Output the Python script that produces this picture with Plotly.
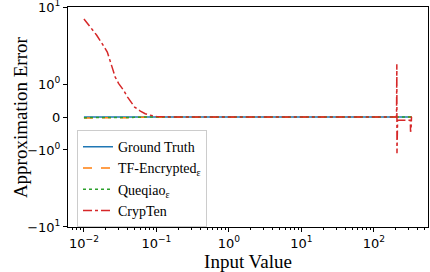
import numpy as np
import plotly.graph_objects as go

# ---- data ----
x_common = [0.01, 0.012, 0.015, 0.018, 0.021, 0.025, 0.03, 0.035, 0.04, 0.05,
            0.06, 0.07, 0.08, 0.1, 0.15, 0.2, 0.3, 0.5, 0.7, 1, 2, 3, 5, 7,
            10, 20, 30, 50, 70, 100, 150, 200, 250, 300, 333]
ground_truth = [0.0] * len(x_common)
tf_encrypted = [-0.03, -0.03, -0.04, -0.03, -0.04, -0.03, -0.03, -0.02, -0.02, -0.01,
                -0.01, -0.01, 0.0, 0.0, 0.0, 0.0, 0.0, 0.0, 0.0, 0.0, 0.0, 0.0, 0.0, 0.0,
                0.0, 0.0, 0.0, 0.0, 0.0, 0.0, 0.0, 0.0, 0.0, 0.0, 0.0]
queqiao = [-0.02, -0.02, -0.03, -0.02, -0.02, -0.02, -0.02, -0.01, -0.01, -0.01,
           -0.01, 0.0, 0.0, 0.0, 0.0, 0.0, 0.0, 0.0, 0.0, 0.0, 0.0, 0.0, 0.0, 0.0,
           0.0, 0.0, 0.0, 0.0, 0.0, 0.0, 0.0, 0.0, 0.0, 0.0, 0.0]

x_crypten = [0.01, 0.012, 0.015, 0.018, 0.021, 0.025, 0.027, 0.03, 0.035, 0.04,
             0.05, 0.06, 0.07, 0.08, 0.1, 0.15, 0.2, 0.3, 0.5, 1, 2, 5, 10, 20,
             50, 100, 150, 200, 205, 207, 208, 209, 210, 212, 250, 300, 318, 320, 325, 330, 333]
crypten = [7.0, 5.6, 4.3, 3.3, 2.6, 1.55, 1.23, 1.02, 0.82, 0.6,
           0.3, 0.18, 0.1, 0.06, 0.015, 0.003, 0.0, 0.0, 0.0, 0.0, 0.0, 0.0, 0.0, 0.0,
           0.0, 0.0, 0.0, 0.0, 0.0, 1.8, -1.1, 0.0, -0.1, -0.1, -0.1, -0.1, -0.1, -0.45, -0.4, 0.0, 0.0]

y_tick_values = [-10, -1, 0, 1, 10]
y_tick_labels = ["\u221210<sup>1</sup>", "\u221210<sup>0</sup>", "0", "10<sup>0</sup>", "10<sup>1</sup>"]
x_tick_values = [0.01, 0.1, 1, 10, 100]
x_tick_labels = ["10<sup>\u22122</sup>", "10<sup>\u22121</sup>", "10<sup>0</sup>", "10<sup>1</sup>", "10<sup>2</sup>"]

# ---- symlog scale (linthresh = 1) ----
LIN = 0.4286
def symlog(v):
    v = np.asarray(v, dtype=float)
    a = np.abs(v)
    out = np.where(a <= 1, LIN * v, np.sign(v) * (LIN + np.log10(np.maximum(a, 1e-300))))
    return out

fig = go.Figure()
fig.add_trace(go.Scatter(x=x_common, y=symlog(ground_truth), mode="lines", name="Ground Truth",
                         line=dict(color="#1f77b4", width=1.5)))
fig.add_trace(go.Scatter(x=x_common, y=symlog(tf_encrypted), mode="lines", name="TF-Encrypted<sub>\u03b5</sub>",
                         line=dict(color="#ff7f0e", width=1.5, dash="dash")))
fig.add_trace(go.Scatter(x=x_common, y=symlog(queqiao), mode="lines", name="Queqiao<sub>\u03b5</sub>",
                         line=dict(color="#2ca02c", width=1.5, dash="dot")))
fig.add_trace(go.Scatter(x=x_crypten, y=symlog(crypten), mode="lines", name="CrypTen",
                         line=dict(color="#d62728", width=1.5, dash="dashdot")))

serif = "Liberation Serif, Times New Roman, serif"
sans = "DejaVu Sans, sans-serif"
ylim = float(symlog(10)) + 0.0005

fig.update_layout(
    width=430, height=272,
    margin=dict(l=68, r=2, t=7, b=45, autoexpand=False),
    paper_bgcolor="white", plot_bgcolor="white",
    showlegend=True,
    legend=dict(x=0.025, y=0.44, xanchor="left", yanchor="top",
                bgcolor="rgba(255,255,255,0.85)", bordercolor="#cccccc", borderwidth=1,
                font=dict(family=serif, size=14, color="black"),
                tracegroupgap=0),
    xaxis=dict(type="log", range=[-2.22, 2.746], automargin=False,
               tickvals=x_tick_values, ticktext=x_tick_labels,
               tickfont=dict(family=sans, size=13, color="black"),
               ticks="outside", ticklen=4, tickcolor="black", ticklabeloverflow="allow",
               showline=True, linecolor="black", linewidth=1, mirror=True,
               showgrid=False, zeroline=False,
               minor=dict(ticks="outside", ticklen=2, tickcolor="black", dtick="D1", showgrid=False),
               title=dict(text="Input Value", font=dict(family=serif, size=19, color="black"), standoff=0)),
    yaxis=dict(range=[-ylim, ylim], automargin=False,
               tickvals=symlog(y_tick_values).tolist(), ticktext=y_tick_labels,
               tickfont=dict(family=sans, size=13, color="black"),
               ticks="outside", ticklen=4, tickcolor="black", ticklabeloverflow="allow",
               showline=True, linecolor="black", linewidth=1, mirror=True,
               showgrid=False, zeroline=False),
    annotations=[dict(text="Approximation Error", textangle=-90, showarrow=False,
                      xref="paper", yref="paper", x=-0.133, y=0.5,
                      xanchor="center", yanchor="middle",
                      font=dict(family=serif, size=19, color="black"))],
)

fig.write_html("out.html", config={"displayModeBar": False},
               post_script="document.body.style.margin='0';")
